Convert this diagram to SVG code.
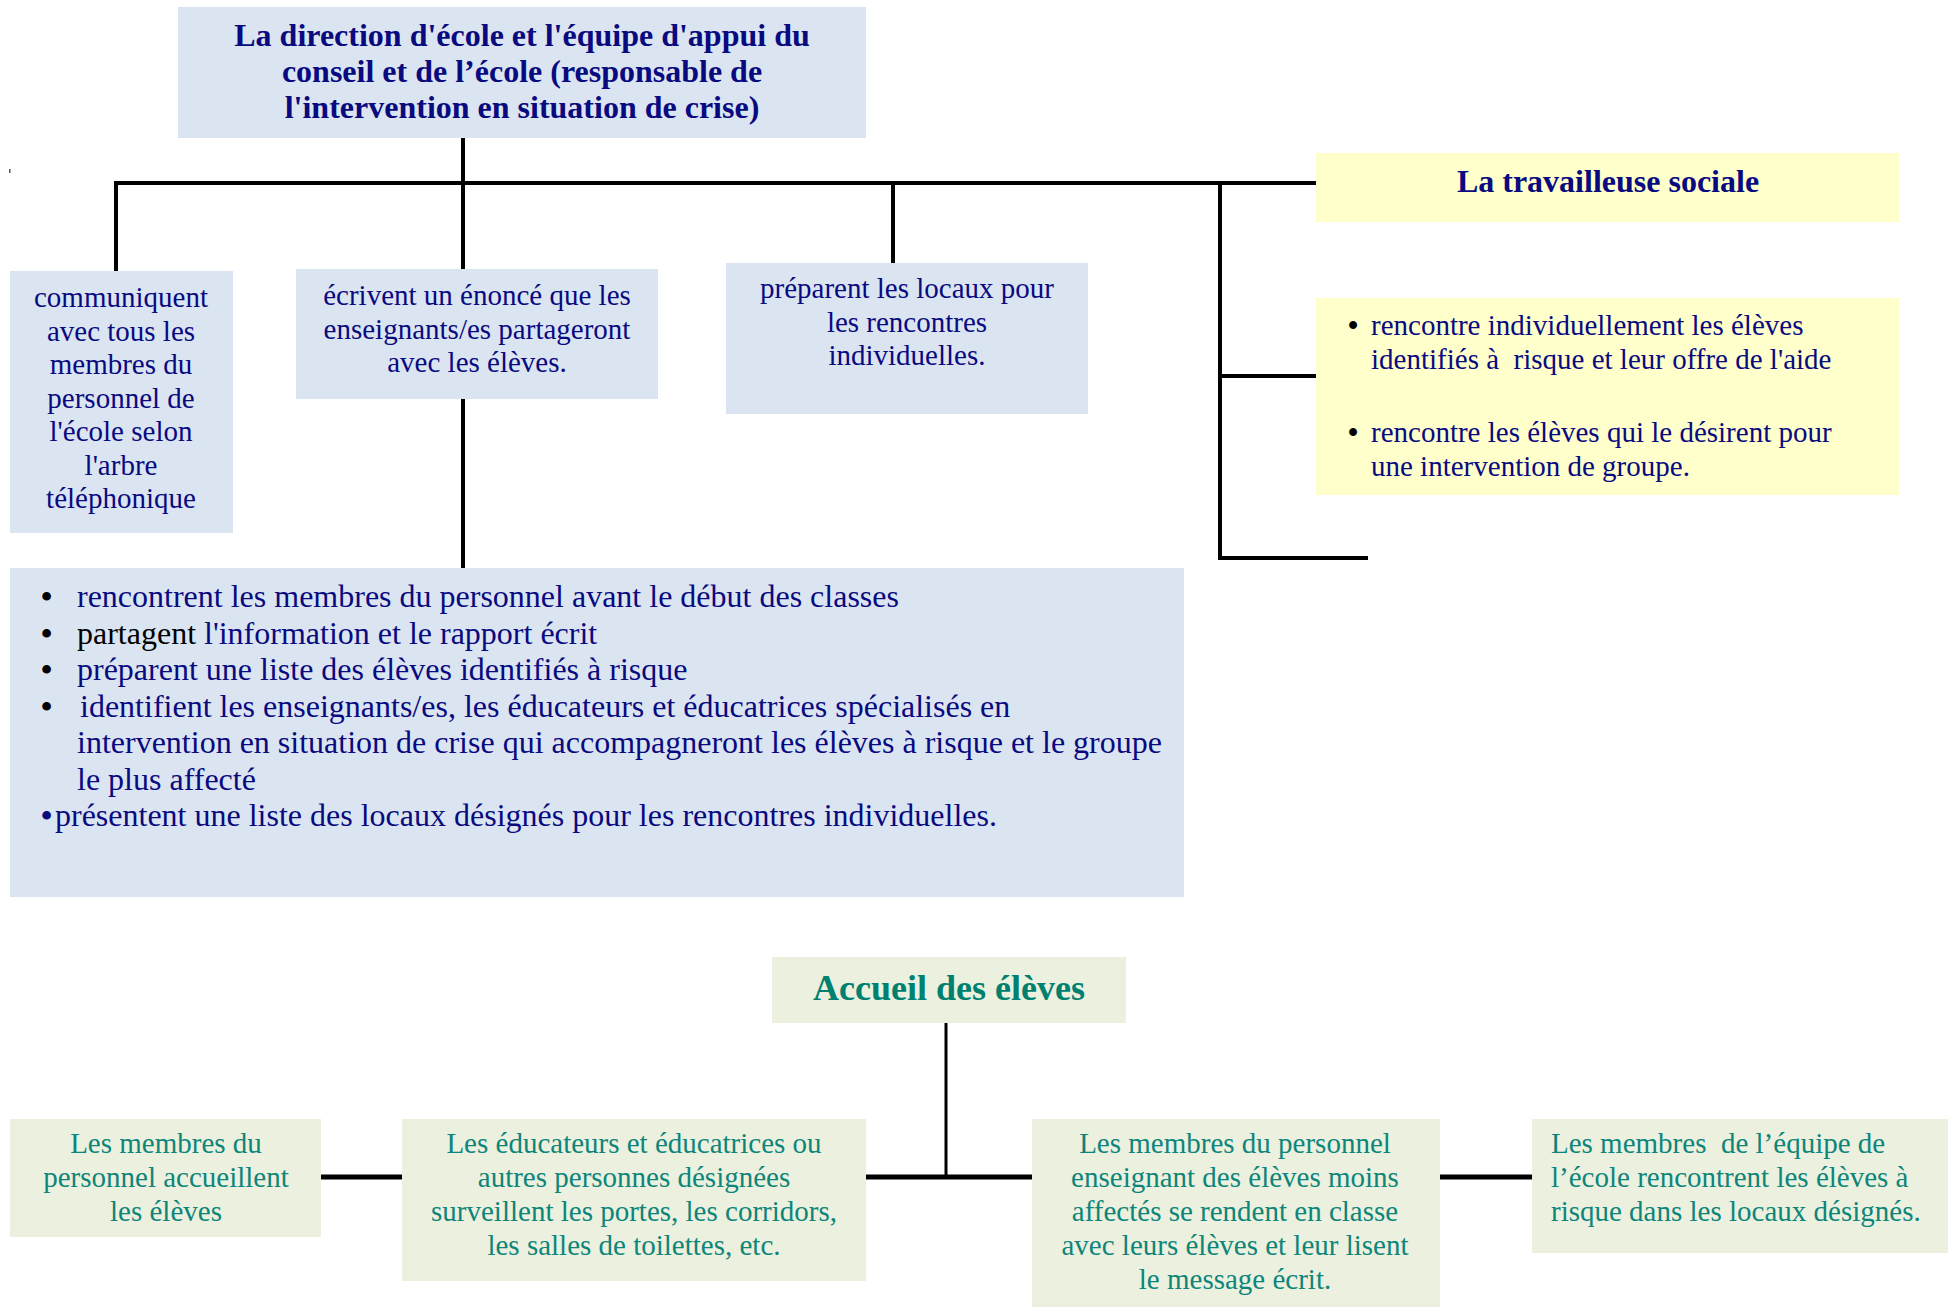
<svg xmlns="http://www.w3.org/2000/svg" width="1953" height="1307" viewBox="0 0 1953 1307">
<style>
.blue{fill:#dbe5f1}
.yel{fill:#ffffcc}
.grn{fill:#ebf1de}
.t{font-family:"Liberation Serif","Times New Roman",serif;font-size:29px;fill:#0a0a80;white-space:pre}
.tb{font-family:"Liberation Serif","Times New Roman",serif;font-size:32px;font-weight:bold;fill:#0a0a80}
.tl{font-family:"Liberation Serif","Times New Roman",serif;font-size:32px;fill:#0a0a80;white-space:pre}
.bu{font-family:"Liberation Serif","Times New Roman",serif;font-size:32px;font-weight:bold;fill:#000}
.bs{font-family:"Liberation Serif","Times New Roman",serif;font-size:29px;font-weight:bold;fill:#000}
.g{font-family:"Liberation Serif","Times New Roman",serif;font-size:29px;fill:#0e857a;white-space:pre}
.gb{font-family:"Liberation Serif","Times New Roman",serif;font-size:36px;font-weight:bold;fill:#00806f}
.c{text-anchor:middle}
.ln{stroke:#000;stroke-width:4;fill:none}
</style>
<rect x="9" y="169" width="1.5" height="4" fill="#555"/>
<g id="connectors">
<path class="ln" d="M463 137V183M114 183H1316M116 181V272M463 183V269M463 398V568M893 183V263M1220 181V560M1218 558H1368M1220 376H1316"/>
<path class="ln" d="M946 1023V1177" style="stroke-width:3"/>
<path class="ln" d="M321 1177H402M866 1177H1032M1440 1177H1532" style="stroke-width:5"/>
</g>
<g id="direction">
<rect class="blue" x="178" y="7" width="688" height="131"/>
<text class="tb c" x="522" y="46">La direction d'école et l'équipe d'appui du</text>
<text class="tb c" x="522" y="82">conseil et de l’école (responsable de</text>
<text class="tb c" x="522" y="118">l'intervention en situation de crise)</text>
</g>
<g id="communiquent">
<rect class="blue" x="10" y="271" width="223" height="262"/>
<text class="t c" x="121" y="307">communiquent</text>
<text class="t c" x="121" y="340.5">avec tous les</text>
<text class="t c" x="121" y="374">membres du</text>
<text class="t c" x="121" y="407.5">personnel de</text>
<text class="t c" x="121" y="441">l'école selon</text>
<text class="t c" x="121" y="474.5">l'arbre</text>
<text class="t c" x="121" y="508">téléphonique</text>
</g>
<g id="ecrivent">
<rect class="blue" x="296" y="269" width="362" height="130"/>
<text class="t c" x="477" y="305">écrivent un énoncé que les</text>
<text class="t c" x="477" y="338.5">enseignants/es partageront</text>
<text class="t c" x="477" y="372">avec les élèves.</text>
</g>
<g id="preparent">
<rect class="blue" x="726" y="263" width="362" height="151"/>
<text class="t c" x="907" y="298">préparent les locaux pour</text>
<text class="t c" x="907" y="331.5">les rencontres</text>
<text class="t c" x="907" y="365">individuelles.</text>
</g>
<g id="actions">
<rect class="blue" x="10" y="568" width="1174" height="329"/>
<text class="bu" x="41" y="607">•</text><text class="tl" x="77" y="607">rencontrent les membres du personnel avant le début des classes</text>
<text class="bu" x="41" y="643.5">•</text><text class="tl" x="77" y="643.5"><tspan fill="#000">partagent</tspan> l'information et le rapport écrit</text>
<text class="bu" x="41" y="680">•</text><text class="tl" x="77" y="680">préparent une liste des élèves identifiés à risque</text>
<text class="bu" x="41" y="716.5">•</text><text class="tl" x="80" y="716.5">identifient les enseignants/es, les éducateurs et éducatrices spécialisés en</text>
<text class="tl" x="77" y="753">intervention en situation de crise qui accompagneront les élèves à risque et le groupe</text>
<text class="tl" x="77" y="789.5">le plus affecté</text>
<text class="bu" x="41" y="826" style="fill:#0a0a80">•</text><text class="tl" x="55" y="826">présentent une liste des locaux désignés pour les rencontres individuelles.</text>
</g>
<g id="travailleuse">
<rect class="yel" x="1316" y="153" width="583" height="69"/>
<text class="tb c" x="1608" y="192">La travailleuse sociale</text>
</g>
<g id="travailleuse-actions">
<rect class="yel" x="1316" y="298" width="583" height="197"/>
<text class="bs" x="1348" y="335">•</text><text class="t" x="1371" y="335">rencontre individuellement les élèves</text>
<text class="t" x="1371" y="368.5">identifiés à  risque et leur offre de l'aide</text>
<text class="bs" x="1348" y="442">•</text><text class="t" x="1371" y="442">rencontre les élèves qui le désirent pour</text>
<text class="t" x="1371" y="475.5">une intervention de groupe.</text>
</g>
<g id="accueil">
<rect class="grn" x="772" y="957" width="354" height="66"/>
<text class="gb c" x="949" y="1000">Accueil des élèves</text>
</g>
<g id="accueillent">
<rect class="grn" x="10" y="1119" width="311" height="118"/>
<text class="g c" x="166" y="1153">Les membres du</text>
<text class="g c" x="166" y="1187">personnel accueillent</text>
<text class="g c" x="166" y="1221">les élèves</text>
</g>
<g id="surveillent">
<rect class="grn" x="402" y="1119" width="464" height="162"/>
<text class="g c" x="634" y="1153">Les éducateurs et éducatrices ou</text>
<text class="g c" x="634" y="1187">autres personnes désignées</text>
<text class="g c" x="634" y="1221">surveillent les portes, les corridors,</text>
<text class="g c" x="634" y="1255">les salles de toilettes, etc.</text>
</g>
<g id="enseignants">
<rect class="grn" x="1032" y="1119" width="408" height="188"/>
<text class="g c" x="1235" y="1153">Les membres du personnel</text>
<text class="g c" x="1235" y="1187">enseignant des élèves moins</text>
<text class="g c" x="1235" y="1221">affectés se rendent en classe</text>
<text class="g c" x="1235" y="1255">avec leurs élèves et leur lisent</text>
<text class="g c" x="1235" y="1289">le message écrit.</text>
</g>
<g id="equipe">
<rect class="grn" x="1532" y="1119" width="416" height="134"/>
<text class="g" x="1551" y="1153">Les membres  de l’équipe de</text>
<text class="g" x="1551" y="1187">l’école rencontrent les élèves à</text>
<text class="g" x="1551" y="1221">risque dans les locaux désignés.</text>
</g>
</svg>
